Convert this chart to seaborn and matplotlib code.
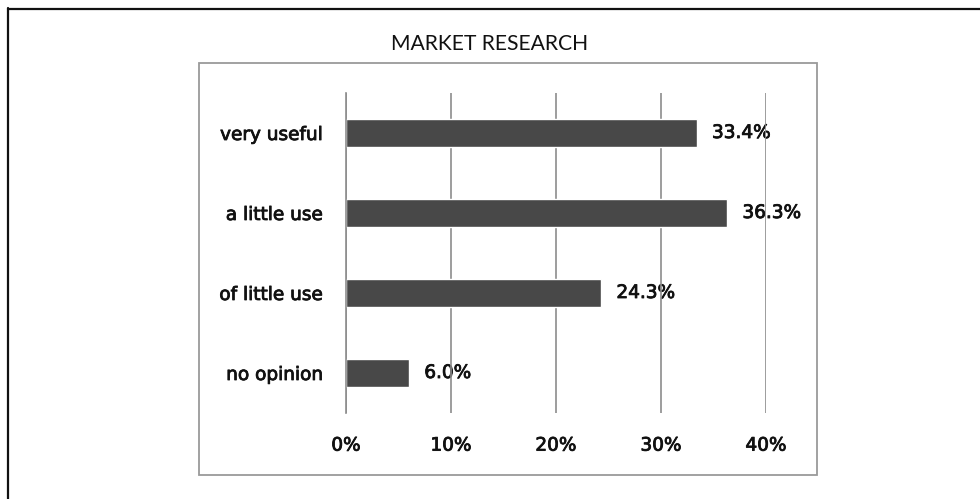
import matplotlib
matplotlib.use("Agg")
import matplotlib.pyplot as plt
import matplotlib.patheffects as pe
import seaborn as sns
import pandas as pd
from matplotlib.lines import Line2D
from matplotlib.patches import Rectangle

# Survey answers and their shares (percent)
categories = ["very useful", "a little use", "of little use", "no opinion"]
shares = [33.4, 36.3, 24.3, 6.0]
value_labels = ["33.4%", "36.3%", "24.3%", "6.0%"]
x_ticks = [0, 10, 20, 30, 40]
x_tick_labels = ["0%", "10%", "20%", "30%", "40%"]
title = "MARKET RESEARCH"

sns.set_theme(style="white")
plt.rcParams["font.family"] = ["DejaVu Sans"]

df = pd.DataFrame({"answer": categories, "share": shares})

W, H = 980, 499
fig = plt.figure(figsize=(W / 100, H / 100), dpi=100)
fig.patch.set_facecolor("white")

def fx(px):
    return px / W

def fy(py):
    return 1 - py / H

# Outer frame (left and top edges)
fig.add_artist(Line2D([fx(8), fx(8)], [fy(8), fy(499)], color="#111111", lw=1.6))
fig.add_artist(Line2D([fx(8), fx(980)], [fy(8.5), fy(8.5)], color="#111111", lw=1.6))

# Chart area frame
fig.add_artist(Rectangle((fx(199), fy(475)), fx(817) - fx(199), fy(63) - fy(475),
                         fill=False, edgecolor="#9a9a9a", lw=1.3))

fig.text(fx(490), fy(44), title, ha="center", va="center", fontsize=15.2,
         color="#111111", family=["Lato", "DejaVu Sans"])

ax = fig.add_axes([fx(346), fy(413), fx(766) - fx(346), fy(93) - fy(413)])
sns.barplot(data=df, y="answer", x="share", order=categories, color="#484848",
            width=0.35, saturation=1, ax=ax, zorder=2)

ax.set_xlim(0, 40)
ax.set_ylim(3.5, -0.5)
ax.set_xticks(x_ticks)
ax.set_xlabel("")
ax.set_ylabel("")
ax.grid(axis="x", color="#8c8c8c", lw=1.2, zorder=1)
ax.grid(axis="y", visible=False)
ax.set_axisbelow(True)

for side in ["top", "right", "bottom"]:
    ax.spines[side].set_visible(False)
ax.spines["left"].set_color("#8c8c8c")
ax.spines["left"].set_linewidth(1.2)

# Slightly heavier strokes for the chart labels
heavy = [pe.withStroke(linewidth=0.6, foreground="#111111")]
label_font = dict(fontsize=13.3, color="#111111", path_effects=heavy)

# Category ticks sit between bars
ax.set_yticks([i for i in range(len(categories))])
ax.set_yticks([-0.5, 0.5, 1.5, 2.5, 3.5], minor=True)
ax.tick_params(axis="y", which="major", length=0, pad=16.5)
ax.tick_params(axis="y", which="minor", length=4, width=1.2, color="#8c8c8c", direction="out")
ax.tick_params(axis="x", which="both", length=0, pad=17)
ax.set_yticklabels(categories, **label_font)
ax.set_xticklabels(x_tick_labels, **label_font)

for i, (v, lab) in enumerate(zip(shares, value_labels)):
    ax.annotate(lab, xy=(v, i), xytext=(11, 0), textcoords="offset points",
                ha="left", va="center", zorder=0.5, **label_font)

fig.savefig("out.png", dpi=100, facecolor="white")
